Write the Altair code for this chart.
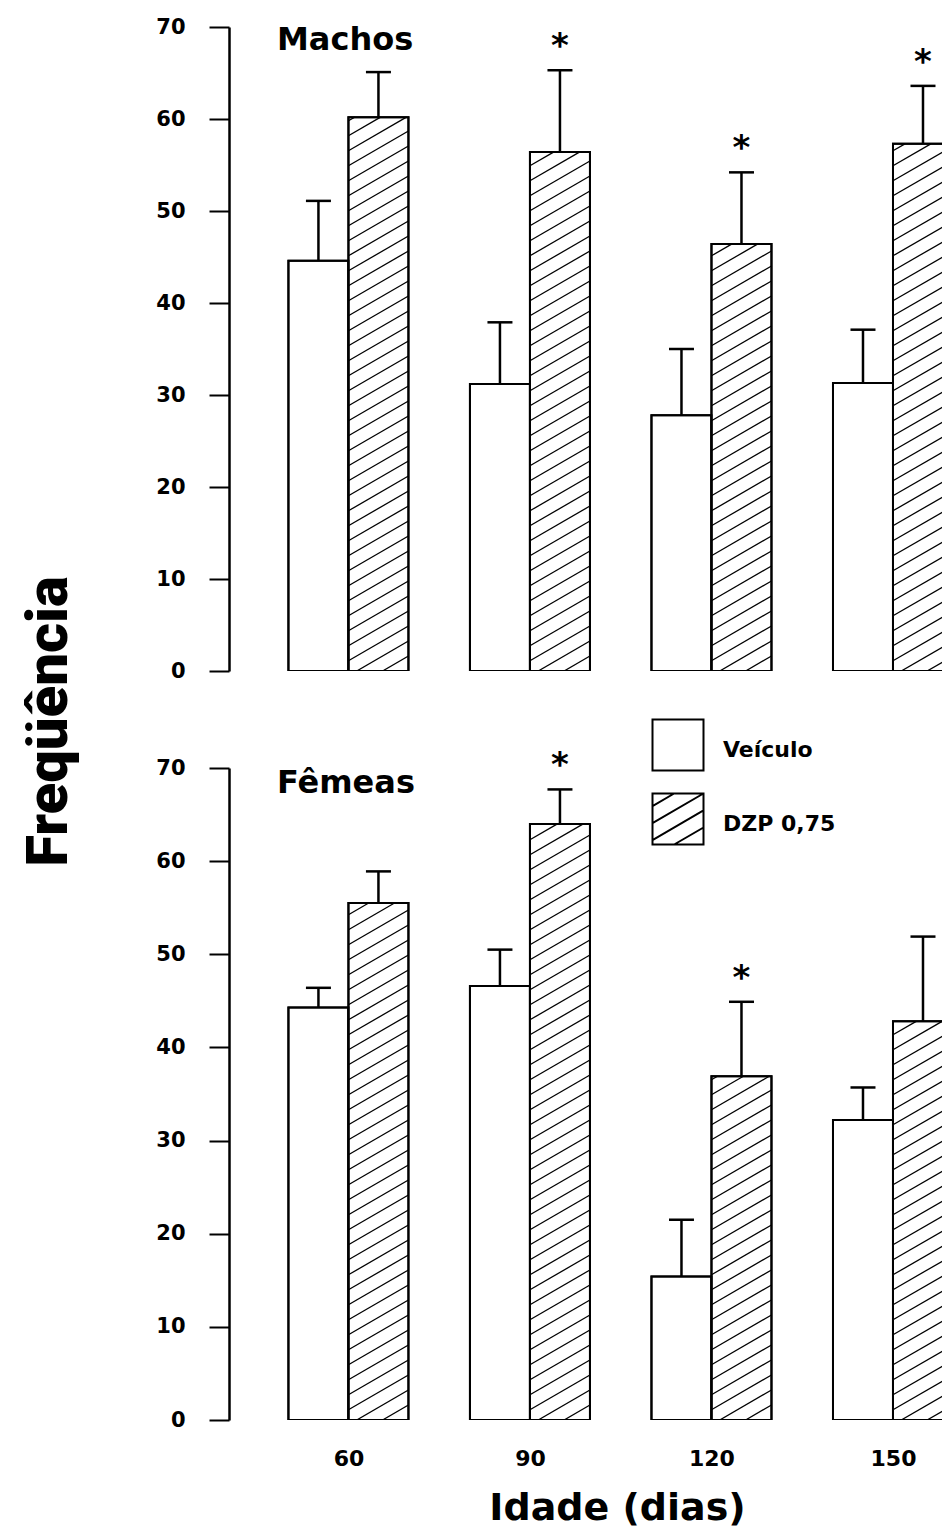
import json
import altair as alt
import pandas as pd

# ---------------- data ----------------
idades = ["60", "90", "120", "150"]
grupos = ["Veículo", "DZP 0,75"]

machos_veiculo = [44.6, 31.2, 27.8, 31.3]
machos_veiculo_ep = [6.5, 6.7, 7.2, 5.8]
machos_dzp = [60.2, 56.4, 46.4, 57.3]
machos_dzp_ep = [4.9, 8.9, 7.8, 6.3]
machos_sig = [0, 1, 1, 1]

femeas_veiculo = [44.3, 46.6, 15.4, 32.2]
femeas_veiculo_ep = [2.1, 3.9, 6.1, 3.5]
femeas_dzp = [55.5, 64.0, 36.9, 42.8]
femeas_dzp_ep = [3.4, 3.7, 8.0, 9.1]
femeas_sig = [0, 1, 1, 0]


def build_df(veic, veic_ep, dzp, dzp_ep, sig):
    rows = []
    for i, idade in enumerate(idades):
        rows.append(dict(idade=idade, i=i, g=0, grupo=grupos[0],
                         media=veic[i], ep=veic_ep[i], sig=0))
        rows.append(dict(idade=idade, i=i, g=1, grupo=grupos[1],
                         media=dzp[i], ep=dzp_ep[i], sig=sig[i]))
    return pd.DataFrame(rows)


df_machos = build_df(machos_veiculo, machos_veiculo_ep, machos_dzp, machos_dzp_ep, machos_sig)
df_femeas = build_df(femeas_veiculo, femeas_veiculo_ep, femeas_dzp, femeas_dzp_ep, femeas_sig)
df_legenda = pd.DataFrame({"grupo": grupos, "ordem": list(range(len(grupos)))})

# ---------------- style / layout constants ----------------
FONT = "DejaVu Sans"
TITLE_FONT = "Roboto"
PX = 181.5                 # pixels per group step
X0, X1 = -0.658, 3.270     # x-domain (group index units)
PLOT_W = round((X1 - X0) * PX)
BW = 60 / PX               # bar width in group units
CAPH = 12.5 / PX           # half width of error cap
HM = 0.58                  # hatch slope
HD = 15                    # hatch vertical spacing (px)
HW = BW * PX

# legend placement (pixels, relative to the upper panel's plot area)
LEG_SYM_X, LEG_LAB_X = 449, 494
LEG_Y0, LEG_DY, LEG_LAB_SHIFT = 718, 74, 5
LEG_SIZE = 2601

xscale = alt.Scale(domain=[X0, X1], nice=False, zero=False)
yscale = alt.Scale(domain=[0, 70], nice=False)


def legend_paths():
    sq = "M-1,-1H1V1H-1Z"
    d = 0.667
    segs = []
    k = 1
    while True:
        c = -1 - HM + k * d
        if c >= 1 + HM:
            break
        u0 = max(-1.0, (-1 - c) / HM)
        u1 = min(1.0, (1 - c) / HM)
        if u0 < u1:
            segs.append("M%.3f,%.3fL%.3f,%.3f" % (u0, -(HM * u0 + c), u1, -(HM * u1 + c)))
        k += 1
    return [sq, sq + "".join(segs)]


def legend_layers():
    leg = alt.Chart(df_legenda).transform_calculate(
        sx=str(LEG_SYM_X), lx=str(LEG_LAB_X),
        sy=f"{LEG_Y0} + datum.ordem * {LEG_DY}",
    ).transform_calculate(ly=f"datum.sy + {LEG_LAB_SHIFT}")
    sym = leg.mark_point(filled=True, fill="white", stroke="black", strokeWidth=2,
                         size=LEG_SIZE, opacity=1).encode(
        x=alt.X("sx:Q", scale=None), y=alt.Y("sy:Q", scale=None),
        shape=alt.Shape("grupo:N", scale=alt.Scale(domain=grupos, range=legend_paths()),
                        legend=None))
    lab = leg.mark_text(font=FONT, fontSize=22, fontWeight="bold", color="black",
                        align="left", baseline="middle").encode(
        x=alt.X("lx:Q", scale=None), y=alt.Y("ly:Q", scale=None), text="grupo:N")
    return [sym, lab]


def make_panel(df, label, height, bottom, title_dy):
    PY = height / 70.0
    if bottom:
        x_axis = alt.Axis(values=list(range(len(idades))),
                          labelExpr=json.dumps(idades) + "[datum.value]",
                          domain=False, ticks=False, tickSize=0, grid=False,
                          labelFont=FONT, labelFontSize=22, labelFontWeight="bold",
                          labelColor="black", labelPadding=28,
                          title="Idade (dias)", titleFont=FONT, titleFontSize=38,
                          titleFontWeight="bold", titleColor="black",
                          titleX=388, titleY=99, titleAlign="center",
                          titleBaseline="alphabetic")
    else:
        x_axis = None
    y_kwargs = dict(values=list(range(0, 71, 10)), grid=False,
                    domainColor="black", domainWidth=2.5,
                    tickColor="black", tickWidth=2, tickSize=20,
                    labelFont=FONT, labelFontSize=21, labelFontWeight="bold",
                    labelColor="black", labelPadding=24)
    if bottom:
        y_axis = alt.Axis(title=None, **y_kwargs)
    else:
        y_axis = alt.Axis(title="Freqüência", titleFont=TITLE_FONT, titleFontSize=58,
                          titleFontWeight=900, titleColor="black",
                          titleAngle=270, titleX=-163, titleY=694,
                          titleAlign="center", titleBaseline="alphabetic",
                          **y_kwargs)

    def X(f):
        return alt.X(f + ":Q", scale=xscale, axis=x_axis)

    def Y(f):
        return alt.Y(f + ":Q", scale=yscale, axis=y_axis)

    base = alt.Chart(df).transform_calculate(
        x0=f"datum.i - {BW} + datum.g * {BW}",
        x1=f"datum.i + datum.g * {BW}",
        xc=f"datum.i - {BW / 2} + datum.g * {BW}",
        topo="datum.media + datum.ep",
    ).transform_calculate(
        cl=f"datum.xc - {CAPH}",
        cr=f"datum.xc + {CAPH}",
    )

    bars = base.mark_bar(fill="white", stroke="black", strokeWidth=2, clip=True).encode(
        x=X("x0"), x2="x1:Q", y=Y("media"), y2=alt.datum(0))

    hatch = base.transform_filter("datum.g == 1").transform_calculate(
        k="sequence(1, 70)").transform_flatten(["k"]).transform_calculate(
        c=f"-{HW * HM} + datum.k * {HD}",
        H=f"datum.media * {PY}",
    ).transform_calculate(
        u0=f"max(0, -datum.c / {HM})",
        u1=f"min({HW}, (datum.H - datum.c) / {HM})",
    ).transform_filter("datum.u0 < datum.u1").transform_calculate(
        hx=f"datum.x0 + datum.u0 / {PX}",
        hy=f"({HM} * datum.u0 + datum.c) / {PY}",
        hx2=f"datum.x0 + datum.u1 / {PX}",
        hy2=f"({HM} * datum.u1 + datum.c) / {PY}",
    ).mark_rule(stroke="black", strokeWidth=1.3, clip=True).encode(
        x=X("hx"), y=Y("hy"), x2="hx2:Q", y2="hy2:Q")

    outline = base.mark_bar(fill="white", fillOpacity=0, stroke="black", strokeWidth=2,
                            clip=True).encode(
        x=X("x0"), x2="x1:Q", y=Y("media"), y2=alt.datum(0))

    stem = base.mark_rule(stroke="black", strokeWidth=2.5).encode(
        x=X("xc"), y=Y("media"), y2="topo:Q")
    cap = base.mark_rule(stroke="black", strokeWidth=2.5).encode(
        x=X("cl"), x2="cr:Q", y=Y("topo"))
    stars = base.transform_filter("datum.sig == 1").mark_text(
        text="*", font=FONT, fontSize=34, fontWeight="bold", color="black",
        baseline="alphabetic", dy=-13).encode(x=X("xc"), y=Y("topo"))

    layers = [bars, hatch, outline, stem, cap, stars]
    if not bottom:
        layers += legend_layers()

    return alt.layer(*layers).properties(
        width=PLOT_W, height=height,
        title=alt.TitleParams(label, anchor="start", frame="group", orient="top",
                              offset=-34, dx=48, dy=title_dy, font=FONT, fontSize=32,
                              fontWeight="bold", color="black", baseline="alphabetic"))


top = make_panel(df_machos, "Machos", 644, False, 32)
bottom = make_panel(df_femeas, "Fêmeas", 652, True, 42)

chart = alt.vconcat(top, bottom, spacing=97, bounds="flush").properties(
    padding={"left": 12, "top": 8, "right": 0, "bottom": 2},
    background="white",
).configure_view(stroke=None)

chart.save("out.html", embed_options={"renderer": "svg", "actions": False})
